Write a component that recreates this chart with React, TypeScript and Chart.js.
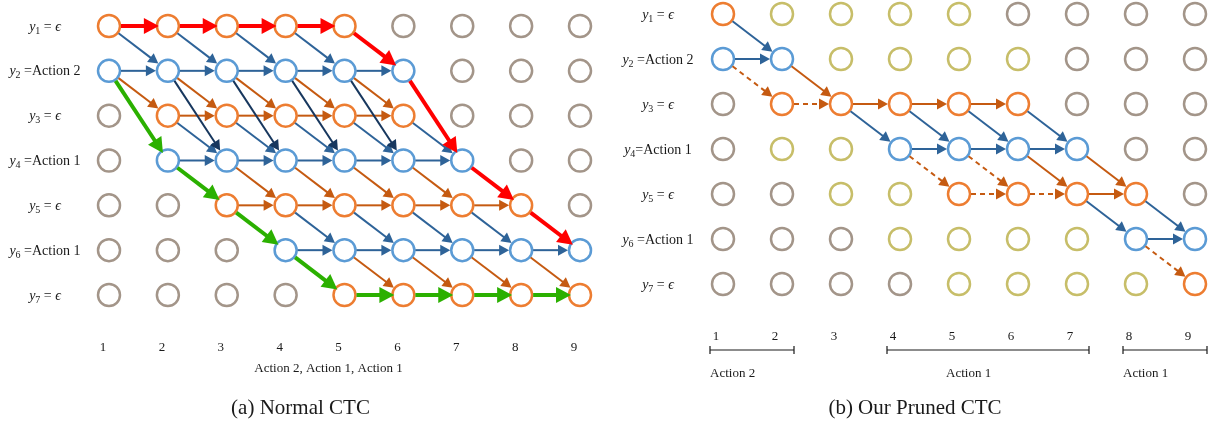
import React, { useEffect, useRef } from 'react';
import { Chart, registerables } from 'chart.js';

Chart.register(...registerables);

type Edge = [number, number, number, number];

// ---------- data ----------
const COLUMNS = [1, 2, 3, 4, 5, 6, 7, 8, 9];
const COLUMN_LABELS = ['1', '2', '3', '4', '5', '6', '7', '8', '9'];
const ROWS = [1, 2, 3, 4, 5, 6, 7];
const ROW_SUBSCRIPTS = ['1', '2', '3', '4', '5', '6', '7'];
const LEFT_ROW_TEXT = [' = ϵ', ' =Action 2', ' = ϵ', ' =Action 1', ' = ϵ', ' =Action 1', ' = ϵ'];
const RIGHT_ROW_TEXT = [' = ϵ', ' =Action 2', ' = ϵ', '=Action 1', ' = ϵ', ' =Action 1', ' = ϵ'];

// node state per row: O = blank(ε) active, B = label active, G = unreachable, Y = pruned
const LEFT_NODE_STATES = [
  'OOOOOGGGG',
  'BBBBBBGGG',
  'GOOOOOGGG',
  'GBBBBBBGG',
  'GGOOOOOOG',
  'GGGBBBBBB',
  'GGGGOOOOO',
];
const RIGHT_NODE_STATES = [
  'OYYYYGGGG',
  'BBYYYYGGG',
  'GOOOOOGGG',
  'GYYBBBBGG',
  'GGYYOOOOG',
  'GGGYYYYBB',
  'GGGGYYYYO',
];

// edges: [fromColumn, fromRow, toColumn, toRow]
const LEFT_BLUE_EDGES: Edge[] = [
  [1, 1, 2, 2], [2, 1, 3, 2], [3, 1, 4, 2], [4, 1, 5, 2],
  [1, 2, 2, 2], [2, 2, 3, 2], [3, 2, 4, 2], [4, 2, 5, 2], [5, 2, 6, 2],
  [2, 3, 3, 4], [3, 3, 4, 4], [4, 3, 5, 4], [5, 3, 6, 4], [6, 3, 7, 4],
  [2, 4, 3, 4], [3, 4, 4, 4], [4, 4, 5, 4], [5, 4, 6, 4], [6, 4, 7, 4],
  [4, 5, 5, 6], [5, 5, 6, 6], [6, 5, 7, 6], [7, 5, 8, 6],
  [4, 6, 5, 6], [5, 6, 6, 6], [6, 6, 7, 6], [7, 6, 8, 6], [8, 6, 9, 6],
];
const LEFT_BROWN_EDGES: Edge[] = [
  [1, 2, 2, 3], [2, 2, 3, 3], [3, 2, 4, 3], [4, 2, 5, 3], [5, 2, 6, 3],
  [2, 3, 3, 3], [3, 3, 4, 3], [4, 3, 5, 3], [5, 3, 6, 3],
  [3, 4, 4, 5], [4, 4, 5, 5], [5, 4, 6, 5], [6, 4, 7, 5],
  [3, 5, 4, 5], [4, 5, 5, 5], [5, 5, 6, 5], [6, 5, 7, 5], [7, 5, 8, 5],
  [5, 6, 6, 7], [6, 6, 7, 7], [7, 6, 8, 7], [8, 6, 9, 7],
];
const LEFT_NAVY_EDGES: Edge[] = [
  [2, 2, 3, 4], [3, 2, 4, 4], [4, 2, 5, 4], [5, 2, 6, 4],
];
const LEFT_RED_PATH: Edge[] = [
  [1, 1, 2, 1], [2, 1, 3, 1], [3, 1, 4, 1], [4, 1, 5, 1],
  [5, 1, 6, 2], [6, 2, 7, 4], [7, 4, 8, 5], [8, 5, 9, 6],
];
const LEFT_GREEN_PATH: Edge[] = [
  [1, 2, 2, 4], [2, 4, 3, 5], [3, 5, 4, 6], [4, 6, 5, 7],
  [5, 7, 6, 7], [6, 7, 7, 7], [7, 7, 8, 7], [8, 7, 9, 7],
];

const RIGHT_BLUE_EDGES: Edge[] = [
  [1, 1, 2, 2], [1, 2, 2, 2],
  [3, 3, 4, 4], [4, 3, 5, 4], [5, 3, 6, 4], [6, 3, 7, 4],
  [4, 4, 5, 4], [5, 4, 6, 4], [6, 4, 7, 4],
  [7, 5, 8, 6], [8, 5, 9, 6], [8, 6, 9, 6],
];
const RIGHT_BROWN_EDGES: Edge[] = [
  [2, 2, 3, 3], [3, 3, 4, 3], [4, 3, 5, 3], [5, 3, 6, 3],
  [6, 4, 7, 5], [7, 4, 8, 5], [7, 5, 8, 5],
];
const RIGHT_BROWN_DASHED_EDGES: Edge[] = [
  [1, 2, 2, 3], [2, 3, 3, 3],
  [4, 4, 5, 5], [5, 4, 6, 5], [5, 5, 6, 5], [6, 5, 7, 5],
  [8, 6, 9, 7],
];

const LEFT_SEQUENCE_TEXT = 'Action 2, Action 1, Action 1';
const RIGHT_SEGMENT_FROM = [1, 4, 8];
const RIGHT_SEGMENT_TO = [2, 7, 9];
const RIGHT_SEGMENT_LABEL_COL = [1, 5, 8];
const RIGHT_SEGMENT_LABELS = ['Action 2', 'Action 1', 'Action 1'];
const LEFT_CAPTION = '(a) Normal CTC';
const RIGHT_CAPTION = '(b) Our Pruned CTC';

// ---------- styles ----------
const SERIF = '"Liberation Serif", "Times New Roman", serif';
const NODE_COLORS: Record<string, string> = {
  G: '#A39589',
  Y: '#C7BE69',
  B: '#5B9BD5',
  O: '#ED7D31',
};

type ArrowStyle = {
  color: string;
  width: number;
  headLen: number;
  headHalf: number;
  startGap: number;
  endGap: number;
  dash?: number[];
};

const THIN = { width: 2, headLen: 10, headHalf: 5.5, startGap: 12, endGap: 12 };
const THICK = { width: 4, headLen: 15, headHalf: 8, startGap: 12, endGap: 9 };

function drawArrow(ctx: CanvasRenderingContext2D, x1: number, y1: number, x2: number, y2: number, s: ArrowStyle) {
  const dx = x2 - x1;
  const dy = y2 - y1;
  const len = Math.hypot(dx, dy);
  const ux = dx / len;
  const uy = dy / len;
  const sx = x1 + ux * s.startGap;
  const sy = y1 + uy * s.startGap;
  const tx = x2 - ux * s.endGap;
  const ty = y2 - uy * s.endGap;
  const bx = tx - ux * s.headLen;
  const by = ty - uy * s.headLen;
  ctx.strokeStyle = s.color;
  ctx.fillStyle = s.color;
  ctx.lineWidth = s.width;
  ctx.lineCap = 'butt';
  ctx.setLineDash(s.dash || []);
  ctx.beginPath();
  ctx.moveTo(sx, sy);
  ctx.lineTo(bx + ux, by + uy);
  ctx.stroke();
  ctx.setLineDash([]);
  ctx.beginPath();
  ctx.moveTo(tx, ty);
  ctx.lineTo(bx - uy * s.headHalf, by + ux * s.headHalf);
  ctx.lineTo(bx + uy * s.headHalf, by - ux * s.headHalf);
  ctx.closePath();
  ctx.fill();
}

function drawRowLabel(ctx: CanvasRenderingContext2D, cx: number, cy: number, sub: string, rest: string) {
  const segs: { t: string; f: string; dy: number }[] = [
    { t: 'y', f: `italic 14px ${SERIF}`, dy: 0 },
    { t: sub, f: `10px ${SERIF}`, dy: 3 },
  ];
  if (rest.endsWith('ϵ')) {
    segs.push({ t: rest.slice(0, -1), f: `14px ${SERIF}`, dy: 0 });
    segs.push({ t: 'ϵ', f: `italic 14px ${SERIF}`, dy: 0 });
  } else {
    segs.push({ t: rest, f: `14px ${SERIF}`, dy: 0 });
  }
  let total = 0;
  const widths = segs.map((sg) => {
    ctx.font = sg.f;
    const w = ctx.measureText(sg.t).width;
    total += w;
    return w;
  });
  let x = cx - total / 2;
  const base = cy + 4.5;
  ctx.fillStyle = '#1a1a1a';
  ctx.textAlign = 'left';
  ctx.textBaseline = 'alphabetic';
  segs.forEach((sg, i) => {
    ctx.font = sg.f;
    ctx.fillText(sg.t, x, base + sg.dy);
    x += widths[i];
  });
}

type PanelConfig = {
  states: string[];
  rowText: string[];
  edgeGroups: { edges: Edge[]; style: ArrowStyle }[];
  rowLabelDx: number;
  colLabelDx: number;
  colLabelDy: number;
  extra: (ctx: CanvasRenderingContext2D, px: (v: number) => number, py: (v: number) => number) => void;
  padding: { left: number; right: number; top: number; bottom: number };
};

function nodeDatasets(states: string[]) {
  return ['G', 'Y', 'B', 'O']
    .map((k) => {
      const data: { x: number; y: number }[] = [];
      states.forEach((row, ri) => {
        row.split('').forEach((s, ci) => {
          if (s === k) data.push({ x: COLUMNS[ci], y: ROWS[ri] });
        });
      });
      return {
        label: k,
        data,
        showLine: false,
        clip: false as any,
        pointStyle: 'circle',
        pointRadius: 11,
        pointHoverRadius: 11,
        pointBorderWidth: 2.5,
        pointBorderColor: NODE_COLORS[k],
        pointBackgroundColor: '#ffffff',
        borderColor: NODE_COLORS[k],
        backgroundColor: '#ffffff',
      };
    })
    .filter((d) => d.data.length > 0);
}

function makePlugin(cfg: PanelConfig) {
  return {
    id: 'ctcDiagram',
    afterDatasetsDraw(chart: any) {
      const ctx: CanvasRenderingContext2D = chart.ctx;
      const xs = chart.scales.x;
      const ys = chart.scales.y;
      const px = (v: number) => xs.getPixelForValue(v);
      const py = (v: number) => ys.getPixelForValue(v);
      ctx.save();
      cfg.edgeGroups.forEach((g) => {
        g.edges.forEach((e) => drawArrow(ctx, px(e[0]), py(e[1]), px(e[2]), py(e[3]), g.style));
      });
      ROWS.forEach((r, i) => drawRowLabel(ctx, px(COLUMNS[0]) + cfg.rowLabelDx, py(r), ROW_SUBSCRIPTS[i], cfg.rowText[i]));
      ctx.fillStyle = '#1a1a1a';
      ctx.font = `13px ${SERIF}`;
      ctx.textAlign = 'center';
      ctx.textBaseline = 'middle';
      COLUMNS.forEach((c, i) => {
        ctx.fillText(COLUMN_LABELS[i], px(c) + cfg.colLabelDx, py(ROWS[ROWS.length - 1]) + cfg.colLabelDy);
      });
      cfg.extra(ctx, px, py);
      ctx.restore();
    },
  };
}

const leftConfig: PanelConfig = {
  states: LEFT_NODE_STATES,
  rowText: LEFT_ROW_TEXT,
  edgeGroups: [
    { edges: LEFT_BROWN_EDGES, style: { color: '#C55A11', ...THIN } },
    { edges: LEFT_BLUE_EDGES, style: { color: '#2E6398', ...THIN } },
    { edges: LEFT_NAVY_EDGES, style: { color: '#17375E', ...THIN } },
    { edges: LEFT_GREEN_PATH, style: { color: '#2BB000', ...THICK } },
    { edges: LEFT_RED_PATH, style: { color: '#FF0000', ...THICK } },
  ],
  rowLabelDx: -64,
  colLabelDx: -6,
  colLabelDy: 53,
  padding: { left: 109, right: 32, top: 26, bottom: 130 },
  extra: (ctx, px, py) => {
    const base = py(7);
    ctx.fillStyle = '#1a1a1a';
    ctx.textAlign = 'center';
    ctx.textBaseline = 'middle';
    ctx.font = `13px ${SERIF}`;
    ctx.fillText(LEFT_SEQUENCE_TEXT, px(5) - 16, base + 74);
    ctx.font = `21px ${SERIF}`;
    ctx.fillText(LEFT_CAPTION, px(5) - 44, base + 113);
  },
};

const rightConfig: PanelConfig = {
  states: RIGHT_NODE_STATES,
  rowText: RIGHT_ROW_TEXT,
  edgeGroups: [
    { edges: RIGHT_BROWN_DASHED_EDGES, style: { color: '#C55A11', ...THIN, dash: [5, 4] } },
    { edges: RIGHT_BROWN_EDGES, style: { color: '#C55A11', ...THIN } },
    { edges: RIGHT_BLUE_EDGES, style: { color: '#2E6398', ...THIN } },
  ],
  rowLabelDx: -65,
  colLabelDx: -7,
  colLabelDy: 53,
  padding: { left: 113, right: 24, top: 14, bottom: 141 },
  extra: (ctx, px, py) => {
    const base = py(7);
    ctx.strokeStyle = '#1a1a1a';
    ctx.lineWidth = 1.2;
    const by = base + 66;
    RIGHT_SEGMENT_FROM.forEach((f, i) => {
      const x1 = px(f) - 13;
      const x2 = px(RIGHT_SEGMENT_TO[i]) + 12;
      ctx.beginPath();
      ctx.moveTo(x1, by);
      ctx.lineTo(x2, by);
      ctx.moveTo(x1, by - 4);
      ctx.lineTo(x1, by + 4);
      ctx.moveTo(x2, by - 4);
      ctx.lineTo(x2, by + 4);
      ctx.stroke();
    });
    ctx.fillStyle = '#1a1a1a';
    ctx.textAlign = 'left';
    ctx.textBaseline = 'middle';
    ctx.font = `13px ${SERIF}`;
    RIGHT_SEGMENT_LABELS.forEach((t, i) => {
      ctx.fillText(t, px(RIGHT_SEGMENT_LABEL_COL[i]) - 13, base + 90);
    });
    ctx.textAlign = 'center';
    ctx.font = `21px ${SERIF}`;
    ctx.fillText(RIGHT_CAPTION, px(5) - 44, base + 124);
  },
};

function Panel({ cfg, left, width }: { cfg: PanelConfig; left: number; width: number }) {
  const ref = useRef<HTMLCanvasElement | null>(null);
  useEffect(() => {
    if (!ref.current) return;
    const chart = new Chart(ref.current, {
      type: 'scatter',
      data: { datasets: nodeDatasets(cfg.states) as any },
      options: {
        responsive: false,
        animation: false,
        events: [],
        devicePixelRatio: 1,
        layout: { padding: cfg.padding },
        scales: {
          x: { type: 'linear', min: 1, max: 9, display: false },
          y: { type: 'linear', min: 1, max: 7, reverse: true, display: false },
        },
        plugins: { legend: { display: false }, tooltip: { enabled: false }, title: { display: false } },
      },
      plugins: [makePlugin(cfg)],
    });
    return () => chart.destroy();
  }, [cfg]);
  return (
    <div style={{ position: 'absolute', left, top: 0, width, height: 425 }}>
      <canvas ref={ref} width={width} height={425} style={{ width, height: 425, display: 'block' }} />
    </div>
  );
}

export default function App() {
  return (
    <div style={{ position: 'absolute', left: 0, top: 0, width: 1219, height: 425, background: '#fff' }}>
      <Panel cfg={leftConfig} left={0} width={612} />
      <Panel cfg={rightConfig} left={610} width={609} />
    </div>
  );
}
